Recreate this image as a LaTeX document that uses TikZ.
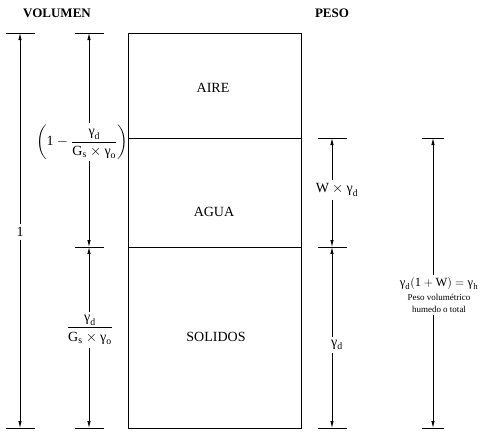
\documentclass[tikz,border=0pt]{standalone}
\usepackage{amsmath}
\usepackage{fontspec}
\setmainfont{Liberation Serif}
\usetikzlibrary{arrows.meta}
\newcommand{\gam}[1]{\text{γ}_{\text{#1}}}
\newcommand{\up}[1]{\text{#1}}

\begin{document}
\begin{tikzpicture}[
    x=1pt, y=-1pt,
    cell/.style={rectangle, draw, line width=0.7pt, minimum width=173pt,
        inner sep=0pt, outer sep=0pt},
    head/.style={font=\bfseries\fontsize{13}{15}\selectfont},
    phase/.style={font=\fontsize{14}{16}\selectfont},
    lab/.style={font=\fontsize{14}{16}\selectfont, inner sep=3pt},
    dimtick/.style={line width=0.8pt},
    dim/.style={-{Latex[length=7pt,width=3.5pt]}, line width=0.8pt}
]
    \useasboundingbox (0,0) rectangle (485,432);

    % Headings
    \node[head] (volumen) at (57,13) {VOLUMEN};
    \node[head] (peso) at (332,13) {PESO};

    % Phase column
    \node[cell, minimum height=105pt] (aire) at (214.5,85.5) {};
    \node[cell, minimum height=109pt, anchor=north] (agua) at (aire.south) {};
    \node[cell, minimum height=181pt, anchor=north] (solidos) at (agua.south) {};
    \node[phase] at (213,88) {AIRE};
    \node[phase] at (214,212) {AGUA};
    \node[phase] at (216,337) {SOLIDOS};

    % Tick positions
    \coordinate (vol1top) at (20,33);
    \coordinate (vol1bot) at (20,428);
    \coordinate (vol2top) at (89,33);
    \coordinate (vol2mid) at (89,247);
    \coordinate (vol2bot) at (89,428);
    \coordinate (pes1top) at (332,138);
    \coordinate (pes1mid) at (332,247);
    \coordinate (pes1bot) at (332,428);
    \coordinate (pes2top) at (433,138);
    \coordinate (pes2bot) at (433,428);

    \foreach \t in {vol1top,vol1bot,vol2top,vol2mid,vol2bot,
                    pes1top,pes1mid,pes1bot}
        \draw[dimtick] ([xshift=-14.5pt]\t) -- ([xshift=14.5pt]\t);
    \foreach \t in {pes2top,pes2bot}
        \draw[dimtick] ([xshift=-11pt]\t) -- ([xshift=11pt]\t);

    % Volume labels
    \node[lab] (uno) at (20,232) {1};
    \node[lab, inner sep=2pt] (vaire) at (82,142)
        {$\left(\up{1}-\dfrac{\gam{d}}{\up{G}_{\up{s}}\times\gam{o}}\right)$};
    \node[lab] (vsol) at (90,330) {$\dfrac{\gam{d}}{\up{G}_{\up{s}}\times\gam{o}}$};

    % Weight labels
    \node[lab] (wagua) at (337,190) {$\up{W}\times\gam{d}$};
    \node[lab] (wsol) at (337,345) {$\gam{d}$};
    \node[lab, align=center, inner sep=2pt, font=\fontsize{12.5}{15}\selectfont]
        (wtot) at (439,295)
        {$\gam{d}(\up{1}+\up{W})=\gam{h}$\\[-1pt]
         {\fontsize{9}{10}\selectfont Peso volumétrico}\\[-3pt]
         {\fontsize{9}{10}\selectfont humedo o total}};

    % Dimension arrows
    \draw[dim] (uno.north) -- (vol1top);
    \draw[dim] (uno.south) -- (vol1bot);
    \draw[dim] (vaire.north -| vol2top) -- (vol2top);
    \draw[dim] (vaire.south -| vol2top) -- (vol2mid);
    \draw[dim] (vsol.north -| vol2top) -- (vol2mid);
    \draw[dim] (vsol.south -| vol2top) -- (vol2bot);
    \draw[dim] (wagua.north -| pes1top) -- (pes1top);
    \draw[dim] (wagua.south -| pes1top) -- (pes1mid);
    \draw[dim] (wsol.north -| pes1top) -- (pes1mid);
    \draw[dim] (wsol.south -| pes1top) -- (pes1bot);
    \draw[dim] (wtot.north -| pes2top) -- (pes2top);
    \draw[dim] (wtot.south -| pes2top) -- (pes2bot);
\end{tikzpicture}
\end{document}
